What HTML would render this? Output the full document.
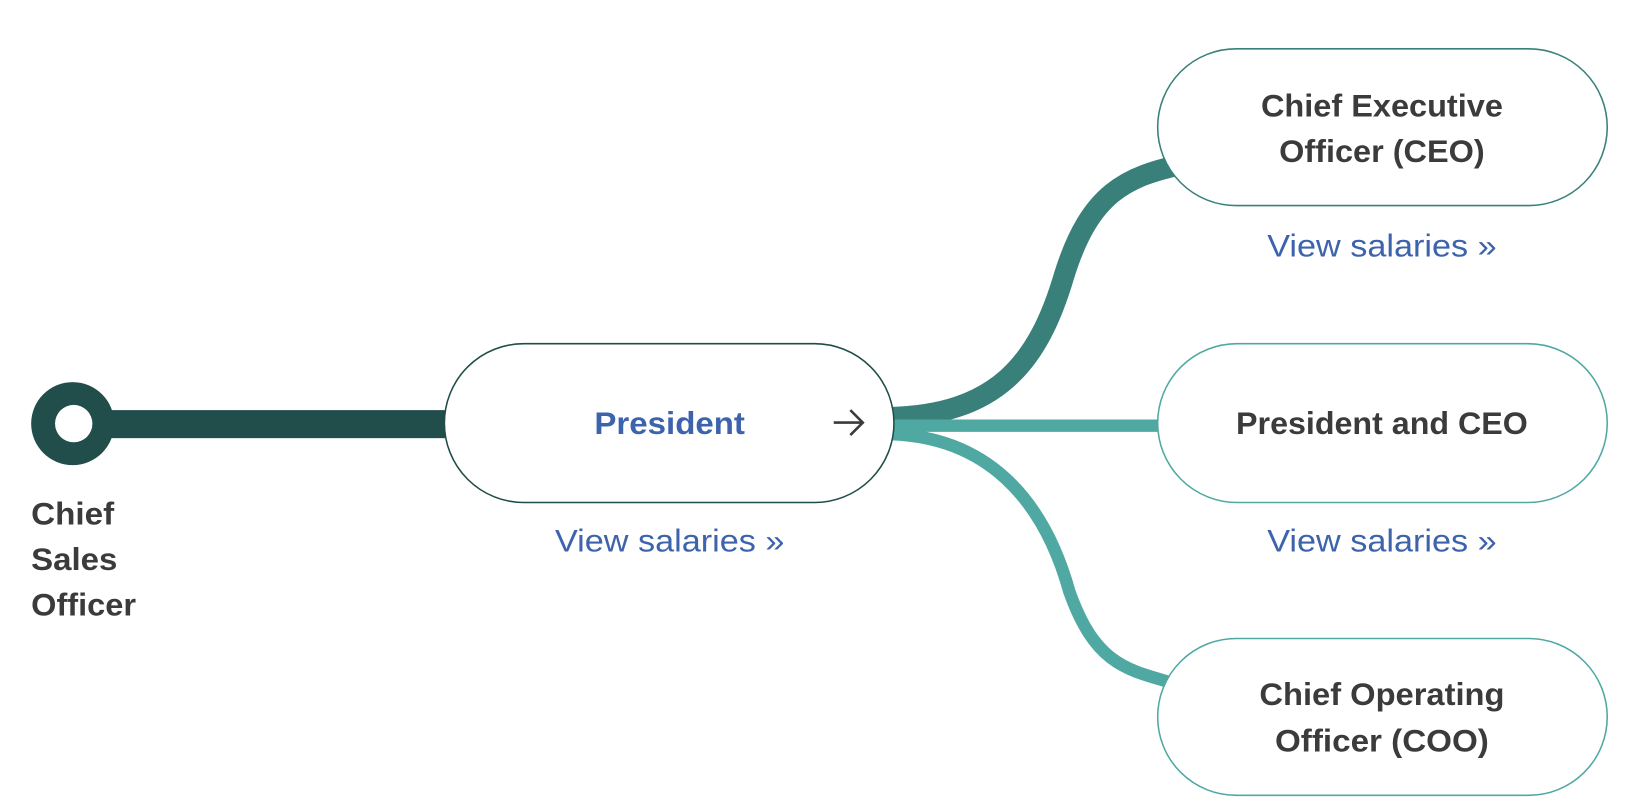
<!DOCTYPE html>
<html><head><meta charset="utf-8"><style>
html,body{margin:0;padding:0;background:#fff;width:1628px;height:806px;overflow:hidden}
svg{display:block}
text{font-family:"Liberation Sans",Arial,sans-serif}
</style></head><body>
<svg width="1628" height="806" viewBox="0 0 1568 776.3" preserveAspectRatio="none" xmlns="http://www.w3.org/2000/svg">
<rect width="1568" height="776.3" fill="#fff"/>
<path d="M855,402 C960,400 1000,350 1025,265 C1050,185 1085,170 1140,158" fill="none" stroke="#3a807a" stroke-width="20"/>
<path d="M855,410 L1120,410" fill="none" stroke="#4fa9a2" stroke-width="12"/>
<path d="M855,418 C950,420 1005,480 1030,570 C1055,640 1085,645 1130,658" fill="none" stroke="#4fa9a2" stroke-width="12"/>
<rect x="70" y="395" width="365" height="27" fill="#214d4a"/>
<circle cx="70" cy="408" r="40" fill="#214d4a"/>
<circle cx="71" cy="408" r="18" fill="#fff"/>
<g font-size="30" font-weight="bold" fill="#3b3b3b">
<text x="30" y="505" textLength="80" lengthAdjust="spacingAndGlyphs">Chief</text>
<text x="30" y="549" textLength="83" lengthAdjust="spacingAndGlyphs">Sales</text>
<text x="30" y="593" textLength="101" lengthAdjust="spacingAndGlyphs">Officer</text>
</g>
<rect x="428" y="331" width="433" height="153" rx="76.5" fill="#fff" stroke="#1f4d47" stroke-width="1.5"/>
<text x="645" y="418" font-size="30" font-weight="bold" fill="#3d63ad" text-anchor="middle" textLength="145" lengthAdjust="spacingAndGlyphs">President</text>
<path d="M803,407 L831,407 M819,395 L831,407 L819,419" fill="none" stroke="#3b3b3b" stroke-width="2.5"/>
<g font-size="30" fill="#3d63ad" text-anchor="middle">
<text x="645" y="531" textLength="221" lengthAdjust="spacingAndGlyphs">View salaries »</text>
<text x="1331" y="247" textLength="221" lengthAdjust="spacingAndGlyphs">View salaries »</text>
<text x="1331" y="531" textLength="221" lengthAdjust="spacingAndGlyphs">View salaries »</text>
</g>
<rect x="1115" y="47" width="433" height="151" rx="75.5" fill="#fff" stroke="#3a807a" stroke-width="1.5"/>
<rect x="1115" y="331" width="433" height="153" rx="76.5" fill="#fff" stroke="#4fa9a2" stroke-width="1.5"/>
<rect x="1115" y="615" width="433" height="151" rx="75.5" fill="#fff" stroke="#4fa9a2" stroke-width="1.5"/>
<g font-size="30" font-weight="bold" fill="#3b3b3b" text-anchor="middle">
<text x="1331" y="112" textLength="233" lengthAdjust="spacingAndGlyphs">Chief Executive</text>
<text x="1331" y="156" textLength="198" lengthAdjust="spacingAndGlyphs">Officer (CEO)</text>
<text x="1331" y="418" textLength="281" lengthAdjust="spacingAndGlyphs">President and CEO</text>
<text x="1331" y="679" textLength="236" lengthAdjust="spacingAndGlyphs">Chief Operating</text>
<text x="1331" y="724" textLength="206" lengthAdjust="spacingAndGlyphs">Officer (COO)</text>
</g>
</svg>
</body></html>
